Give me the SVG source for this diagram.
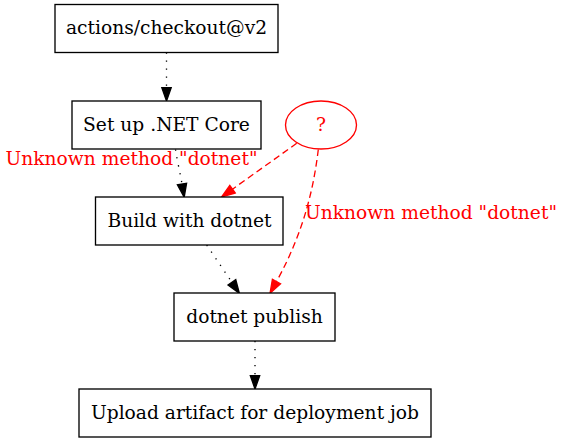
<svg xmlns="http://www.w3.org/2000/svg" width="564" height="443" viewBox="0 0 564 443">
<style>
  .box { fill: #ffffff; stroke: #000000; stroke-width: 1.33; }
  .err { fill: #ffffff; stroke: #ff0000; stroke-width: 1.33; }
  text { font-family: "DejaVu Serif", "Liberation Serif", serif; font-size: 18.67px; text-anchor: middle; }
  .lbl { fill: #000000; }
  .red { fill: #ff0000; }
  .dotted { fill: none; stroke: #000000; stroke-width: 1.33; stroke-dasharray: 1.33 6.67; }
  .dashed { fill: none; stroke: #ff0000; stroke-width: 1.33; stroke-dasharray: 6.67 4; }
</style>
<defs>
  <marker id="arrowBlack" markerUnits="userSpaceOnUse" markerWidth="14" markerHeight="10" refX="0" refY="5" orient="auto" overflow="visible">
    <path d="M0,0.33 L13.33,5 L0,9.67 z" fill="#000000" stroke="#000000" stroke-width="1.33"/>
  </marker>
  <marker id="arrowRed" markerUnits="userSpaceOnUse" markerWidth="14" markerHeight="10" refX="0" refY="5" orient="auto" overflow="visible">
    <path d="M0,0.33 L13.33,5 L0,9.67 z" fill="#ff0000" stroke="#ff0000" stroke-width="1.33"/>
  </marker>
</defs>
<rect x="0" y="0" width="564" height="443" fill="#ffffff"/>

<g id="connectors">
  <path class="dotted" d="M166.5,52.5 L166.5,87.7" marker-end="url(#arrowBlack)"/>
  <path class="dotted" d="M175.5,149.5 C177,160 180,172 182,184" marker-end="url(#arrowBlack)"/>
  <path class="dashed" d="M296.7,143.3 L232.5,189.2" marker-end="url(#arrowRed)"/>
  <path class="dashed" d="M318.3,149.5 C314,185 305,230 276.5,281.5" marker-end="url(#arrowRed)"/>
  <path class="dotted" d="M206.7,245 L231.9,282.3" marker-end="url(#arrowBlack)"/>
  <path class="dotted" d="M255,341 L255,375.7" marker-end="url(#arrowBlack)"/>
  <text class="red" x="131.5" y="165">Unknown method "dotnet"</text>
  <text class="red" x="431" y="219">Unknown method "dotnet"</text>
</g>

<g id="node-checkout">
  <rect class="box" x="55" y="4.5" width="223" height="48"/>
  <text class="lbl" x="166.5" y="34">actions/checkout@v2</text>
</g>
<g id="node-setup">
  <rect class="box" x="72" y="101" width="189" height="48"/>
  <text class="lbl" x="166.5" y="130.5">Set up .NET Core</text>
</g>
<g id="node-unknown">
  <ellipse class="err" cx="321" cy="125" rx="35.5" ry="24"/>
  <text class="red" x="321" y="130.5">?</text>
</g>
<g id="node-build">
  <rect class="box" x="95.5" y="197" width="187.5" height="48"/>
  <text class="lbl" x="189.5" y="226.5">Build with dotnet</text>
</g>
<g id="node-publish">
  <rect class="box" x="174" y="293" width="161" height="48"/>
  <text class="lbl" x="254.5" y="322.5">dotnet publish</text>
</g>
<g id="node-upload">
  <rect class="box" x="79" y="389" width="352" height="48"/>
  <text class="lbl" x="255" y="418.5">Upload artifact for deployment job</text>
</g>
</svg>
